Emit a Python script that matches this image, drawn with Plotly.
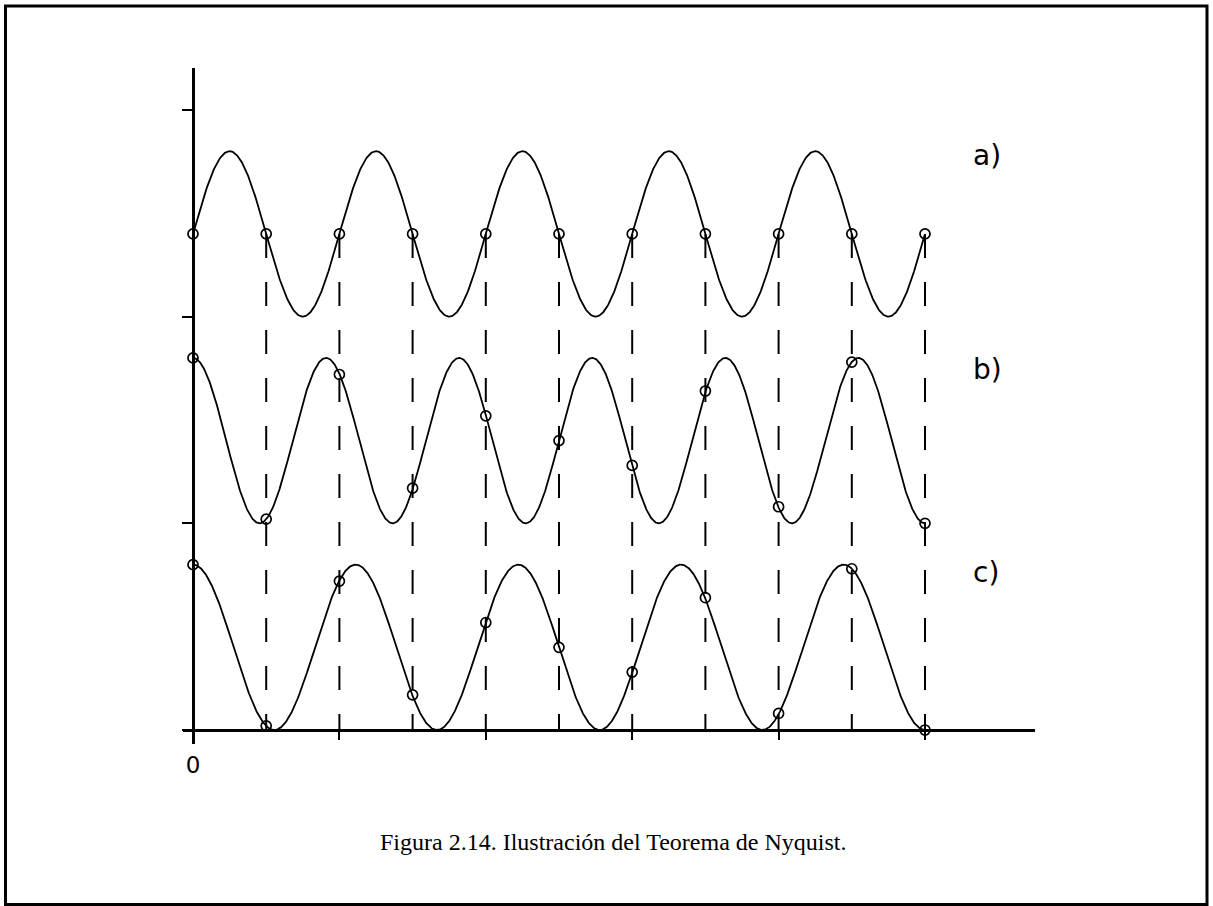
import numpy as np
import plotly.graph_objects as go

# Sample instants (sample index n)
n = list(range(11))

# Signal parameters: offset + amplitude * cos(2*pi*f*t + phase)
labels = ["a)", "b)", "c)"]
freqs = [0.50, 0.55, 0.45]          # cycles per sample
offsets = [2.4, 1.4, 0.4]
amplitudes = [0.4, 0.4, 0.4]
phases_deg = [-90.0, 0.0, 0.0]

# Sampled values at each instant n
a_samples = [2.40, 2.40, 2.40, 2.40, 2.40, 2.40, 2.40, 2.40, 2.40, 2.40, 2.40]
b_samples = [1.80, 1.02, 1.72, 1.17, 1.52, 1.40, 1.28, 1.64, 1.08, 1.78, 1.00]
c_samples = [0.80, 0.02, 0.72, 0.17, 0.52, 0.40, 0.28, 0.64, 0.08, 0.78, 0.00]
samples = [a_samples, b_samples, c_samples]

# Label placement (data units)
label_x = 10.63
label_y = [2.78, 1.745, 0.76]

# Axis ticks
x_tickvals = [0, 2, 4, 6, 8, 10]
x_ticktext = ["0", "", "", "", "", ""]
y_tickvals = [0, 1, 2, 3]

caption = "Figura 2.14. Ilustración del Teorema de Nyquist."

W, H = 1213, 906
# pixel geometry of the plotting frame
x0_px, unit_x = 193.0, 73.2
y0_px, unit_y = 730.0, 206.7
xd = [183.0, 1035.0]
yd = [68.0, 744.0]

fig = go.Figure()

t = np.linspace(0, 10, 1201)
for f, off, amp, ph in zip(freqs, offsets, amplitudes, phases_deg):
    y = off + amp * np.cos(2 * np.pi * f * t + np.deg2rad(ph))
    fig.add_trace(go.Scatter(x=t, y=y, mode="lines",
                             line=dict(color="black", width=1.8),
                             hoverinfo="skip", showlegend=False))

# dashed sampling lines from the top signal down to the time axis
for xi, ya in zip(n[1:], a_samples[1:]):
    fig.add_shape(type="line", xref="x", yref="y", x0=xi, x1=xi, y0=ya, y1=0,
                  line=dict(color="black", width=2, dash="24px,24px"),
                  layer="below")

for s in samples:
    fig.add_trace(go.Scatter(x=n, y=s, mode="markers",
                             marker=dict(symbol="circle-open", size=10,
                                         color="black", line=dict(width=1.7)),
                             cliponaxis=False, hoverinfo="skip",
                             showlegend=False))

for lab, ly in zip(labels, label_y):
    fig.add_annotation(x=label_x, y=ly, xref="x", yref="y", text=lab,
                       showarrow=False, xanchor="left", yanchor="middle",
                       font=dict(family="DejaVu Sans", size=28, color="black"))

fig.add_annotation(x=612.5 / W, y=1 - 842 / H, xref="paper", yref="paper",
                   text=caption, showarrow=False, xanchor="center",
                   yanchor="middle",
                   font=dict(family="Liberation Serif", size=24, color="black"))

# page frame
fig.add_shape(type="rect", xref="paper", yref="paper",
              x0=5.5 / W, x1=1207 / W, y0=1 - 904.5 / H, y1=1 - 6 / H,
              line=dict(color="black", width=3))

fig.update_layout(
    width=W, height=H, margin=dict(l=0, r=0, t=0, b=0),
    paper_bgcolor="white", plot_bgcolor="white", showlegend=False,
    xaxis=dict(domain=[xd[0] / W, xd[1] / W],
               range=[(xd[0] - x0_px) / unit_x, (xd[1] - x0_px) / unit_x],
               anchor="free", position=1 - y0_px / H,
               showline=True, linecolor="black", linewidth=2.5,
               showgrid=False, zeroline=False,
               ticks="outside", ticklen=8, tickwidth=2, tickcolor="black",
               tickvals=x_tickvals, ticktext=x_ticktext,
               tickfont=dict(family="DejaVu Sans", size=23, color="black"),
               ticklabelstandoff=6),
    yaxis=dict(domain=[1 - yd[1] / H, 1 - yd[0] / H],
               range=[(y0_px - yd[1]) / unit_y, (y0_px - yd[0]) / unit_y],
               anchor="free", position=x0_px / W,
               showline=True, linecolor="black", linewidth=2.5,
               showgrid=False, zeroline=False,
               ticks="outside", ticklen=10, tickwidth=2, tickcolor="black",
               tickvals=y_tickvals, showticklabels=False),
)

fig.write_html("out.html")
